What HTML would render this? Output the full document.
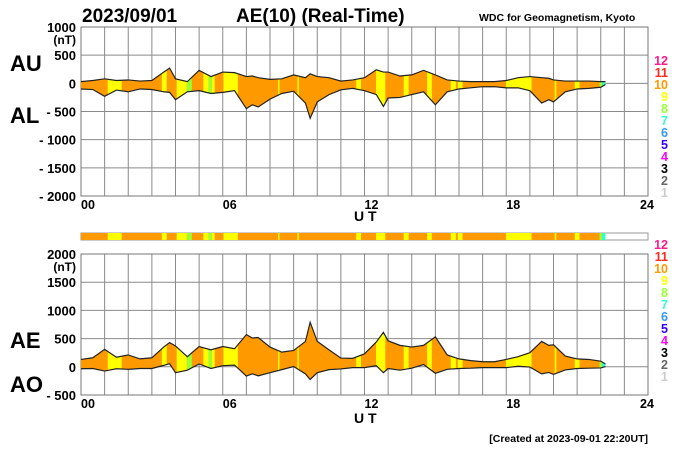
<!DOCTYPE html>
<html><head><meta charset="utf-8"><style>
body{margin:0;background:#fff;}
svg{display:block;font-family:"Liberation Sans",sans-serif;}
</style></head><body>
<svg id="c" width="700" height="450" viewBox="0 0 700 450">
<text x="82" y="22" font-size="19" font-weight="bold">2023/09/01</text>
<text x="236" y="22" font-size="19" font-weight="bold">AE(10) (Real-Time)</text>
<text x="479" y="21" font-size="10.5" font-weight="bold">WDC for Geomagnetism, Kyoto</text>
<text x="10" y="71" font-size="22" font-weight="bold">AU</text>
<text x="10" y="123" font-size="22" font-weight="bold">AL</text>
<text x="10" y="348" font-size="22" font-weight="bold">AE</text>
<text x="10" y="392" font-size="22" font-weight="bold">AO</text>
<text x="354" y="221" font-size="14" font-weight="bold">U T</text>
<text x="354" y="423" font-size="14" font-weight="bold">U T</text>
<text x="648" y="442" font-size="10.5" font-weight="bold" text-anchor="end">[Created at 2023-09-01 22:20UT]</text>
<g id="g"></g>
</svg>
<script>
const hours=[0,0.5,1,1.5,2,2.5,3,3.5,3.75,4,4.5,5,5.5,6,6.5,7,7.25,7.5,8,8.5,9,9.5,9.7,10,10.5,11,11.5,12,12.5,12.8,13,13.5,14,14.5,15,15.5,16,16.5,17,17.5,18,18.5,19,19.5,19.8,20,20.5,21,21.5,22,22.2];
const auValues=[30,50,80,50,60,40,50,200,270,80,30,230,120,200,190,120,130,100,70,80,150,100,170,120,100,40,60,100,240,200,200,130,150,230,150,60,40,30,30,30,50,100,120,100,90,60,40,40,40,30,30];
const alValues=[-100,-110,-230,-120,-150,-100,-110,-150,-160,-290,-150,-130,-180,-160,-130,-450,-380,-420,-280,-180,-140,-350,-620,-330,-200,-115,-90,-130,-200,-410,-260,-250,-200,-150,-380,-150,-100,-80,-60,-60,-80,-80,-130,-350,-290,-330,-150,-100,-90,-70,-20];
const segStart=[1.13,3.42,4.05,4.48,5.18,5.4,5.54,6.03,8.34,9.16,11.65,12.49,13.66,14.65,15.65,15.95,17.99,20.05,20.9,21.95,22.05];
const segEnd=[1.72,3.63,4.48,4.69,5.4,5.54,5.66,6.64,8.40,9.22,11.85,12.88,13.87,14.85,15.87,16.15,19.07,20.12,21.1,22.05,22.2];
const segLevel=[9,9,9,8,9,8,9,9,9,9,9,9,9,9,9,9,9,9,9,8,7];
const legendLabels=["12","11","10","9","8","7","6","5","4","3","2","1"];
const legendColors=["#ff1a8c","#ff2a1a","#ff9900","#ffff00","#99ff33","#33ffcc","#3399ff","#3300ff","#ff00ff","#000","#666","#ccc"];
const levelColor={7:"#33ffcc",8:"#99ff33",9:"#ffff00",10:"#ff9900"};
const topTicks=[1000,500,0,-500,-1000,-1500,-2000];
const botTicks=[2000,1500,1000,500,0,-500];
const xTicks=["00","06","12","18","24"];
const NS="http://www.w3.org/2000/svg";
const g=document.getElementById('g');
const X0=81,X1=648;
const xs=h=>X0+(X1-X0)*h/24;
function mk(t,a,p){const e=document.createElementNS(NS,t);for(const k in a)e.setAttribute(k,a[k]);(p||g).appendChild(e);return e;}
function panel(id,vmax,vmin,yTop,yBot,ticks,upper,lower,legY0){
  const ys=v=>yTop+(vmax-v)*(yBot-yTop)/(vmax-vmin);
  const frame=mk('g',{});
  
  
  for(let h=0;h<=24;h++){const l=mk('line',{x1:xs(h),x2:xs(h),y1:yTop,y2:yBot,stroke:'#8a8a8a','stroke-width':1},frame);
    }
  ticks.forEach((v,i)=>{const l=mk('line',{x1:X0,x2:X1,y1:ys(v),y2:ys(v),stroke:'#8a8a8a','stroke-width':1},frame);
    
    const lab=(v<0?'- '+(-v):''+v);
    const t=mk('text',{x:76,y:ys(v)+5,'font-size':13,'font-weight':'bold','text-anchor':'end'},frame);t.textContent=lab;
    
    if(i===0){const u=mk('text',{x:76,y:ys(v)+17,'font-size':12,'font-weight':'bold','text-anchor':'end'},frame);u.textContent='(nT)';
      }
  });
  mk('rect',{x:X0,y:yTop,width:X1-X0,height:yBot-yTop,fill:'none',stroke:'#777'},frame);
  xTicks.forEach((s,i)=>{const t=mk('text',{x:xs(i*6)+(i==4?-8:0),y:yBot+13,'font-size':12.5,'font-weight':'bold'},frame);t.textContent=s;
    });
  let up=hours.map((h,i)=>xs(h)+','+ys(upper[i]));
  let lo=hours.map((h,i)=>xs(h)+','+ys(lower[i])).reverse();
  const cp=mk('clipPath',{id:'cp'+id},frame);mk('polygon',{points:up.concat(lo).join(' ')},cp);
  const area=mk('polygon',{points:up.concat(lo).join(' '),fill:'#ff9900'},frame);
  
  segStart.forEach((s,i)=>{const r=mk('rect',{x:xs(s),y:yTop,width:xs(segEnd[i])-xs(s),height:yBot-yTop,fill:levelColor[segLevel[i]],'clip-path':'url(#cp'+id+')'},frame);
    });
  const l1=mk('polyline',{points:up.join(' '),fill:'none',stroke:'#222','stroke-width':1.2},frame);
  
  const l2=mk('polyline',{points:lo.join(' '),fill:'none',stroke:'#222','stroke-width':1.2},frame);
  
  legendLabels.forEach((s,i)=>{const t=mk('text',{x:668,y:legY0+i*12,'font-size':12.5,'font-weight':'bold','text-anchor':'end',fill:legendColors[i]},frame);t.textContent=s;
    });
}
panel('au-al',1000,-2000,27,196,topTicks,auValues,alValues,65);
const aeValues=auValues.map((v,i)=>v-alValues[i]);
const aoValues=auValues.map((v,i)=>(v+alValues[i])/2);
panel('ae-ao',2000,-500,254,395,botTicks,aeValues,aoValues,249);
const bar=mk('g',{});


mk('rect',{x:X0,y:233,width:X1-X0,height:7,fill:'#fff',stroke:'#999'},bar);
mk('rect',{x:X0,y:233,width:xs(22.2)-X0,height:7,fill:'#ff9900'},bar);
segStart.forEach((s,i)=>{const r=mk('rect',{x:xs(s),y:233,width:xs(segEnd[i])-xs(s),height:7,fill:levelColor[segLevel[i]]},bar);
  });
</script>
</body></html>
